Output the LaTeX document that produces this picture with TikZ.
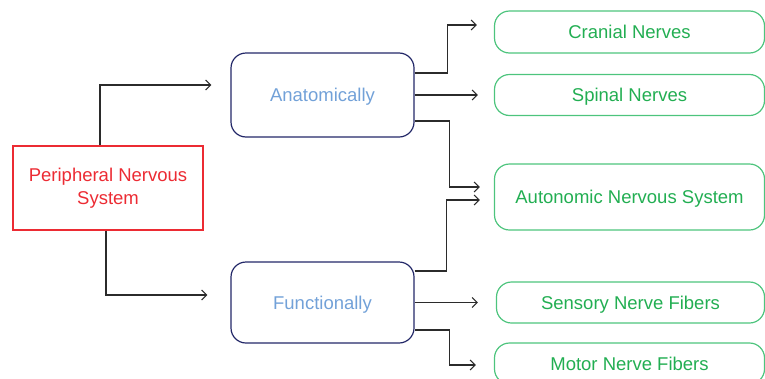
\documentclass[tikz,border=0pt]{standalone}
\usepackage{fontspec}
\setmainfont{Liberation Sans}
\usetikzlibrary{arrows.meta}
\definecolor{pnsred}{HTML}{EC2B33}
\definecolor{navy}{HTML}{232868}
\definecolor{softblue}{HTML}{72A1D8}
\definecolor{leafgreen}{HTML}{22AE52}
\definecolor{leafline}{HTML}{4DC47D}
\definecolor{wire}{HTML}{2B2B2B}
\tikzset{
  rootbox/.style={draw=pnsred, line width=1.2pt, text=pnsred, minimum width=190pt, minimum height=84pt, inner sep=0pt},
  midbox/.style={draw=navy, line width=1.2pt, text=softblue, rounded corners=15pt, minimum width=183pt, inner sep=0pt, text height=13.3pt, text depth=0pt},
  leafbox/.style={draw=leafline, line width=1.2pt, text=leafgreen, rounded corners=15pt, minimum width=270pt, inner sep=0pt, text height=13.3pt, text depth=0pt},
  conn/.style={draw=wire, line width=1.1pt, -{Straight Barb[length=5pt,width=10pt,line width=1.1pt]}},
  lbl/.style={font=\fontsize{18.5}{23}\selectfont}
}
\begin{document}
\begin{tikzpicture}[x=1pt, y=-1pt]
\clip (0,0) rectangle (765,378);

% nodes
\node[rootbox, lbl] (pns) at (108,188)
  {\raisebox{-2pt}{\begin{tabular}{@{}c@{}}Peripheral Nervous\\System\end{tabular}}};
\node[midbox, lbl, minimum height=84pt] (anat) at (322.5,95) {Anatomically};
\node[midbox, lbl, minimum height=81pt] (func) at (322.5,302.5) {Functionally};
\node[leafbox, lbl, minimum height=42pt] (cran) at (629.5,32) {Cranial Nerves};
\node[leafbox, lbl, minimum height=41pt] (spin) at (629.5,95) {Spinal Nerves};
\node[leafbox, lbl, minimum height=66pt] (auto) at (629.5,197) {Autonomic Nervous System};
\node[leafbox, lbl, minimum height=41pt, minimum width=268pt] (sens) at (630.5,302.5) {Sensory Nerve Fibers};
\node[leafbox, lbl, minimum height=41pt] (motr) at (629.5,363.5) {Motor Nerve Fibers};

% root branches
\draw[conn] ([xshift=-8pt]pns.north) |- ([xshift=-19pt,yshift=10pt]anat.west);
\draw[conn] ([xshift=-2pt]pns.south) |- ([xshift=-23pt,yshift=7.5pt]func.west);

% anatomical branches
\draw[conn] ([yshift=22pt]anat.east) -- ++(33,0) |- ([xshift=-17pt,yshift=7pt]cran.west);
\draw[conn] (anat.east) -- ([xshift=-16pt]spin.west);
\draw[conn] ([yshift=-26pt]anat.east) -- ++(35,0) |- ([xshift=-14pt,yshift=10pt]auto.west);

% functional branches
\draw[conn] ([yshift=31.5pt]func.east) -- ++(32,0) |- ([xshift=-14pt,yshift=-3pt]auto.west);
\draw[conn] (func.east) -- ([xshift=-18pt]sens.west);
\draw[conn] ([yshift=-27.5pt]func.east) -- ++(35,0) |- ([xshift=-18pt,yshift=-1.5pt]motr.west);
\end{tikzpicture}
\end{document}
